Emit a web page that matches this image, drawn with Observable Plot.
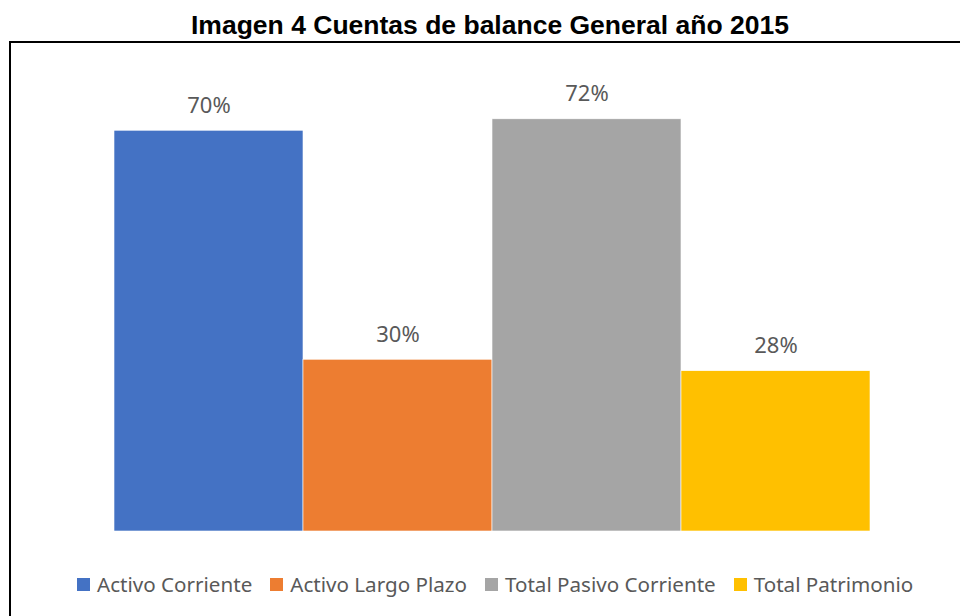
<!DOCTYPE html>
<html>
<head>
<meta charset="utf-8">
<script src="https://cdn.jsdelivr.net/npm/d3@7"></script>
<script src="https://cdn.jsdelivr.net/npm/@observablehq/plot@0.6"></script>
<style>
  html, body { margin: 0; padding: 0; background: #fff; width: 960px; height: 616px; overflow: hidden; position: relative; }
  #title { position: absolute; top: 10px; left: 0; width: 980px; text-align: center; font-family: "Liberation Sans", Arial, sans-serif; font-weight: bold; font-size: 26.5px; line-height: 30px; color: #000; white-space: nowrap; }
  #frame { position: absolute; left: 9px; top: 41px; width: 1000px; height: 620px; border-left: 2px solid #000; border-top: 2px solid #000; }
  #chart { position: absolute; left: 0; top: 43px; }
  #legend { position: absolute; top: 569px; left: 77px; display: flex; align-items: center; font-family: "Noto Sans", "Open Sans", sans-serif; font-size: 20.6px; line-height: 30px; color: #595959; white-space: nowrap; }
  .item { display: flex; align-items: center; margin-right: 18px; }
  .sw { width: 13px; height: 13px; margin-right: 7px; }
</style>
</head>
<body>
<div id="title">Imagen 4 Cuentas de balance General año 2015</div>
<div id="frame"></div>
<div id="chart"></div>
<div id="legend"></div>
<script>
const categories = ["Activo Corriente", "Activo Largo Plazo", "Total Pasivo Corriente", "Total Patrimonio"];
const values = [0.70, 0.30, 0.72, 0.28];
const colors = ["#4472C4", "#ED7D31", "#A5A5A5", "#FFC000"];

const data = categories.map((c, i) => ({category: c, value: values[i]}));

const chart = Plot.plot({
  width: 960,
  height: 488,
  marginLeft: 113,
  marginRight: 89,
  marginTop: 30,
  marginBottom: 0,
  style: {background: "transparent", overflow: "visible"},
  x: {domain: categories, padding: 0, axis: null},
  y: {domain: [0, 0.8], axis: null},
  color: {domain: categories, range: colors},
  marks: [
    Plot.barY(data, {x: "category", y: "value", fill: "category", stroke: "#fff", strokeWidth: 0.6}),
    Plot.text(data, {x: "category", y: "value", text: d => Math.round(d.value * 100) + "%", dy: -25, fill: "#595959", fontSize: 22, fontFamily: "Noto Sans, Open Sans, sans-serif"})
  ]
});
document.getElementById("chart").appendChild(chart);

const legend = document.getElementById("legend");
categories.forEach((c, i) => {
  const item = document.createElement("div");
  item.className = "item";
  const sw = document.createElement("div");
  sw.className = "sw";
  sw.style.background = colors[i];
  const label = document.createElement("span");
  label.textContent = c;
  item.appendChild(sw);
  item.appendChild(label);
  legend.appendChild(item);
});
</script>
</body>
</html>
